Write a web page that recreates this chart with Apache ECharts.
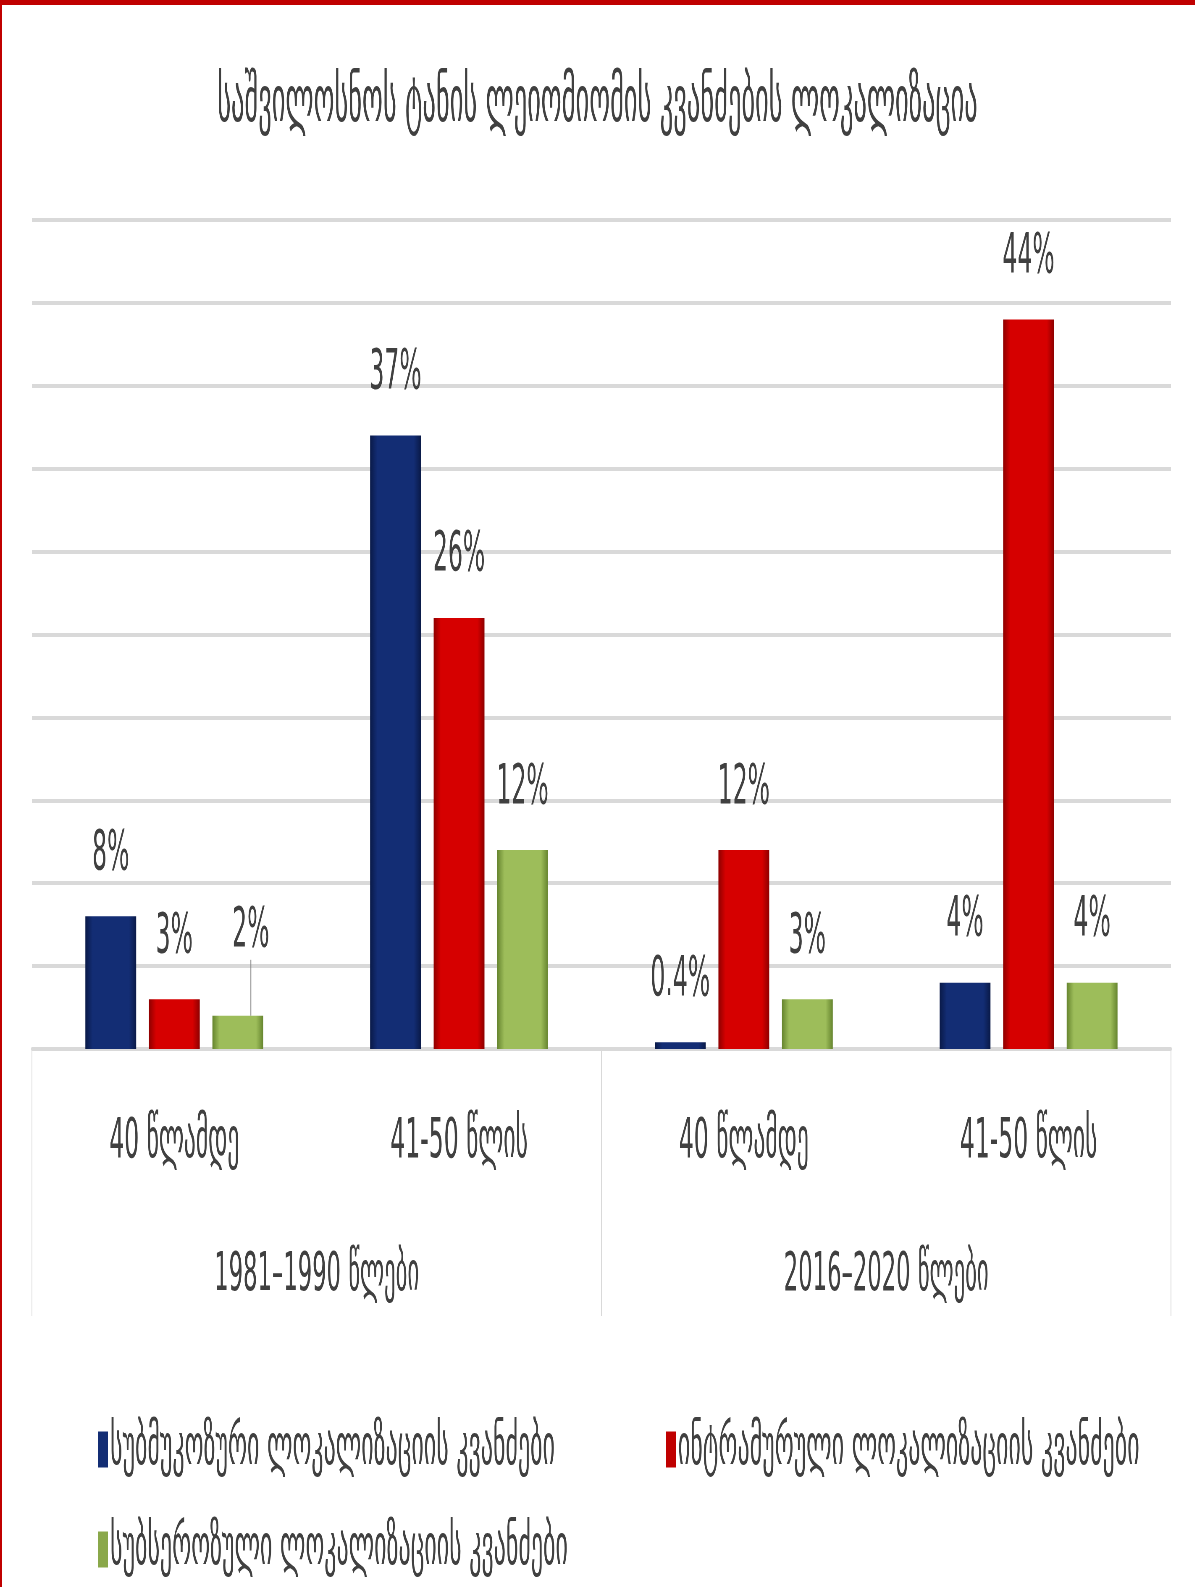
<!DOCTYPE html>
<html>
<head>
<meta charset="utf-8">
<script src="https://cdn.jsdelivr.net/npm/echarts@6/dist/echarts.min.js"></script>
<style>
  html, body { margin: 0; padding: 0; overflow: hidden; background: #ffffff; }
  #chart { position: absolute; left: 0; top: 0; width: 2845px; height: 1587px; transform: scaleX(0.42); transform-origin: 0 0; }
  #frame { position: absolute; left: 0; top: 0; width: 1195px; height: 1587px; box-sizing: border-box;
           border-top: 5px solid #c00000; border-left: 2px solid #c00000; pointer-events: none; }
</style>
</head>
<body>
<div id="chart"></div>
<div id="frame"></div>
<script>
// Age groups (lower axis level) and study periods (upper axis level)
const categories = ['40 წლამდე', '41-50 წლის', '40 წლამდე', '41-50 წლის'];
const periods = ['1981–1990 წლები', '2016–2020 წლები'];

// Share of fibroid nodes by localisation, %
const submucous = [8, 37, 0.4, 4];
const intramural = [3, 26, 12, 44];
const subserous = [2, 12, 3, 4];

const seriesNames = [
  'სუბმუკოზური ლოკალიზაციის კვანძები',
  'ინტრამურული ლოკალიზაციის კვანძები',
  'სუბსეროზული ლოკალიზაციის კვანძები'
];
const chartTitle = 'საშვილოსნოს ტანის ლეიომიომის კვანძების ლოკალიზაცია';

const FONT = "'DejaVu Sans', sans-serif";
const TEXT = '#404040';

// bevelled bar fill: darker edges around a flat face
function bevel(edge, face) {
  return new echarts.graphic.LinearGradient(0, 0, 1, 0, [
    { offset: 0, color: edge },
    { offset: 0.14, color: face },
    { offset: 0.86, color: face },
    { offset: 1, color: edge }
  ]);
}

const palette = [
  bevel('#0a1a48', '#132d74'),
  bevel('#8e0000', '#d60000'),
  bevel('#66852f', '#9dbd5a')
];
const legendColors = ['#132d74', '#c00000', '#8aa84a'];

function barSeries(name, values, idx) {
  return {
    name: name,
    type: 'bar',
    data: values,
    barWidth: 121,
    barGap: '25%',
    itemStyle: { color: palette[idx] },
    label: {
      show: true,
      position: 'top',
      distance: 34,
      formatter: '{c}%',
      fontFamily: FONT,
      fontSize: 56,
      color: TEXT
    },
    labelLine: { show: false }
  };
}

const series = [
  barSeries(seriesNames[0], submucous, 0),
  barSeries(seriesNames[1], intramural, 1),
  barSeries(seriesNames[2], subserous, 2)
];
// the small first subserous label is lifted aside with a leader line
series[2].data = subserous.map(function (v, i) {
  return i === 0
    ? { value: v, labelLine: { show: true, lineStyle: { color: '#808080', width: 2 } } }
    : v;
});
series[2].labelLayout = function (p) {
  if (p.dataIndex === 0) return { dx: 31, dy: -22 };
};

function legendAt(i, left, top) {
  return {
    data: [{ name: seriesNames[i], itemStyle: { color: legendColors[i] } }],
    left: left, top: top,
    icon: 'rect', itemWidth: 24, itemHeight: 36,
    textStyle: { fontFamily: FONT, fontSize: 57, color: TEXT },
    selectedMode: false
  };
}

const chart = echarts.init(document.getElementById('chart'));
chart.setOption({
  backgroundColor: '#ffffff',
  animation: false,
  title: {
    text: chartTitle,
    left: 'center',
    top: 68,
    textStyle: { fontFamily: FONT, fontSize: 63, fontWeight: 'normal', color: TEXT }
  },
  legend: [
    legendAt(0, 228, 1416),
    legendAt(1, 1580, 1416),
    legendAt(2, 228, 1516)
  ],
  grid: { left: 76, right: 57, top: 220, bottom: 538 },
  xAxis: [
    {
      type: 'category',
      data: categories,
      axisLine: { show: true, lineStyle: { color: '#d9d9d9', width: 4 } },
      axisTick: { show: false },
      axisLabel: { margin: 65, fontFamily: FONT, fontSize: 56, color: TEXT }
    },
    {
      type: 'category',
      data: periods,
      position: 'bottom',
      axisLine: { show: false },
      axisTick: { show: true, length: 267, lineStyle: { color: '#d9d9d9', width: 2 } },
      axisLabel: { margin: 200, fontFamily: FONT, fontSize: 54, color: TEXT }
    }
  ],
  yAxis: {
    type: 'value',
    min: 0, max: 50, interval: 5,
    axisLabel: { show: false },
    axisLine: { show: false },
    axisTick: { show: false },
    splitLine: { lineStyle: { color: '#d9d9d9', width: 4 } }
  },
  series: series
});
</script>
</body>
</html>
